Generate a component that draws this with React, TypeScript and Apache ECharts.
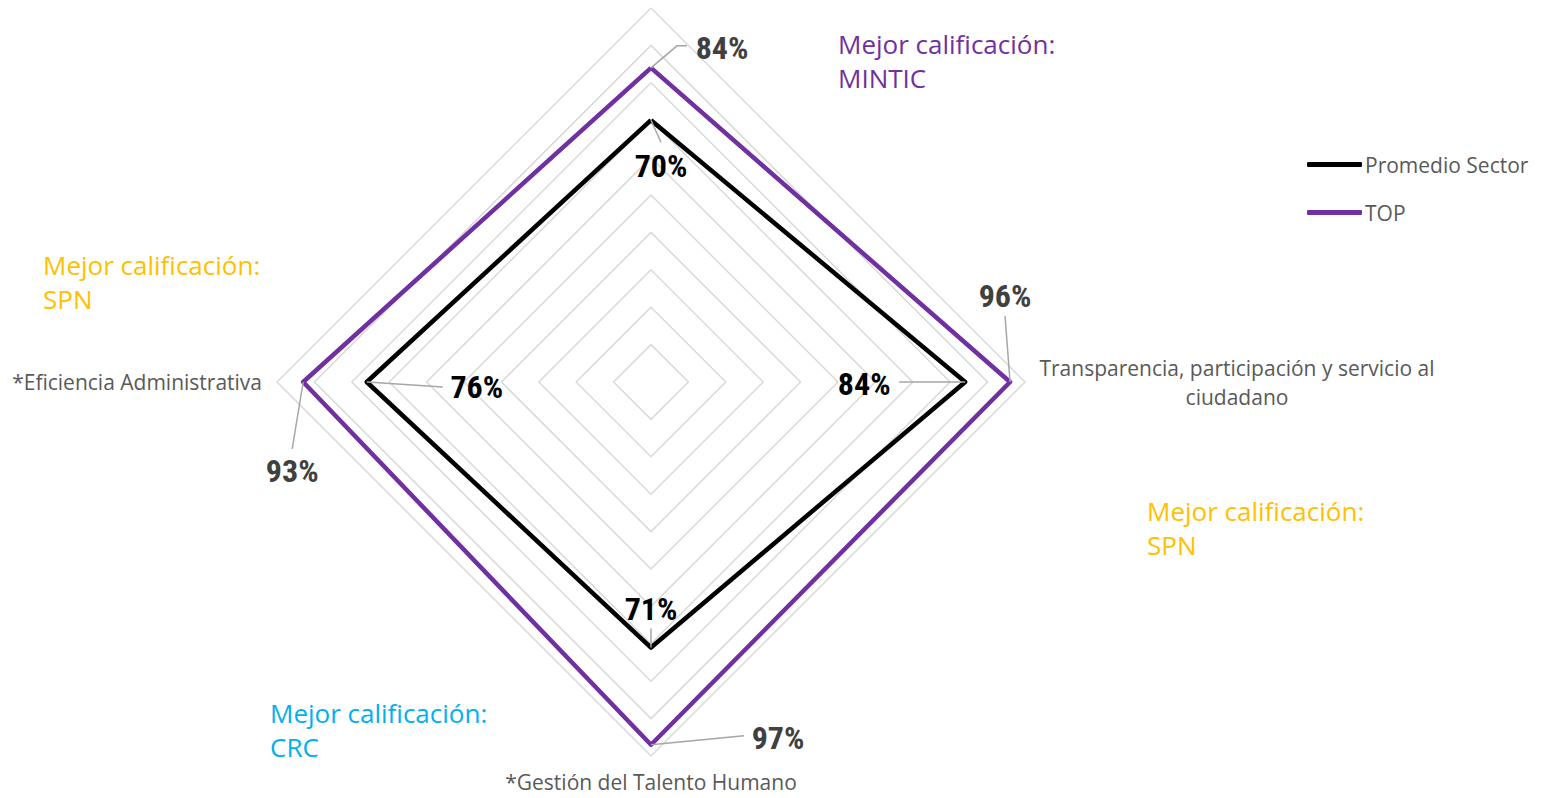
import React, { useEffect, useRef } from 'react';
import * as echarts from 'echarts';

// ---- data ----
const indicatorNames = [
  '',
  '*Eficiencia Administrativa',
  '*Gestión del Talento Humano',
  'Transparencia, participación y servicio al\nciudadano',
];
const seriesNames = ['Promedio Sector', 'TOP'];
const promedioValues = [0.7, 0.76, 0.71, 0.84];
const topValues = [0.84, 0.93, 0.97, 0.96];
const annotationTitle = 'Mejor calificación:';
const annotationEntities = ['MINTIC', 'SPN', 'SPN', 'CRC'];

// ---- layout / style ----
const CX = 651;
const CY = 382;
const R = 374;
const PURPLE = '#7030A0';
const GOLD = '#FFC000';
const BLUE = '#00B0F0';
const GRAY_TEXT = '#595959';
const LABEL_FONT = '"Liberation Sans Narrow", "Roboto Condensed", "Liberation Sans", Arial, sans-serif';
const BODY_FONT = '"Open Sans", "Noto Sans", sans-serif';

const annotationStyle = [
  { x: 838, y: 27, color: PURPLE },
  { x: 43, y: 248, color: GOLD },
  { x: 1147, y: 494, color: GOLD },
  { x: 270, y: 696, color: BLUE },
];

// label placement relative to the data point: text offset and leader elbow offsets
const topLabelPlacement = [
  { t: [71, -20], l: [[26, -22], [36, -22]] },
  { t: [-11, 89], l: [[-11, 67]] },
  { t: [127, -7], l: [[93, -9]] },
  { t: [-5, -86], l: [[-5, -66]] },
];
const promLabelPlacement = [
  { t: [10, 46], l: [[10, 22]] },
  { t: [110, 5], l: [[76, 5]] },
  { t: [0, -39], l: [[0, -19]] },
  { t: [-101, 2], l: [[-66, 0]] },
];

function point(i: number, v: number): [number, number] {
  const a = ((90 + 90 * i) * Math.PI) / 180;
  return [CX + R * v * Math.cos(a), CY - R * v * Math.sin(a)];
}

function labelElements(values: number[], placement: any[], color: string) {
  const els: any[] = [];
  values.forEach((v, i) => {
    const [px, py] = point(i, v);
    const p = placement[i];
    const pts: number[][] = [[px, py]];
    p.l.forEach((o: number[]) => pts.push([px + o[0], py + o[1]]));
    els.push({
      type: 'polyline',
      silent: true,
      shape: { points: pts },
      style: { stroke: '#a6a6a6', lineWidth: 1.5, fill: null },
      z: 10,
    });
    els.push({
      type: 'text',
      x: px + p.t[0],
      y: py + p.t[1],
      z: 11,
      style: {
        text: Math.round(v * 100) + '%',
        fill: color,
        fontFamily: LABEL_FONT,
        fontWeight: 'bold',
        fontSize: 32,
        textAlign: 'center',
        textVerticalAlign: 'middle',
      },
    });
  });
  return els;
}

function nameElements() {
  const els: any[] = [];
  const nameStyle = { fill: GRAY_TEXT, fontFamily: BODY_FONT, fontSize: 21, lineHeight: 29 };
  els.push({
    type: 'text', x: CX - R - 15, y: CY,
    style: { ...nameStyle, text: indicatorNames[1], textAlign: 'right', textVerticalAlign: 'middle' },
  });
  els.push({
    type: 'text', x: CX, y: CY + R + 26,
    style: { ...nameStyle, lineHeight: 20, text: indicatorNames[2], textAlign: 'center', textVerticalAlign: 'middle' },
  });
  els.push({
    type: 'text', x: CX + R + 212, y: CY,
    style: { ...nameStyle, text: indicatorNames[3], textAlign: 'center', textVerticalAlign: 'middle' },
  });
  return els;
}

function annotationElements() {
  return annotationEntities.map((e, i) => ({
    type: 'text',
    x: annotationStyle[i].x,
    y: annotationStyle[i].y,
    style: {
      text: annotationTitle + '\n' + e,
      fill: annotationStyle[i].color,
      fontFamily: BODY_FONT,
      fontSize: 26,
      lineHeight: 34,
      textAlign: 'left',
      textVerticalAlign: 'top',
    },
  }));
}

export default function App() {
  const ref = useRef<HTMLDivElement>(null);
  useEffect(() => {
    if (!ref.current) return;
    const chart = echarts.init(ref.current, null, { renderer: 'svg' });
    chart.setOption({
      animation: false,
      backgroundColor: '#ffffff',
      legend: {
        data: seriesNames,
        orient: 'vertical',
        left: 1302,
        top: 149,
        itemWidth: 55,
        itemHeight: 5,
        itemGap: 27,
        icon: 'roundRect',
        textStyle: { color: GRAY_TEXT, fontSize: 21, fontFamily: BODY_FONT, lineHeight: 20, padding: [0, 0, 0, -2] },
      },
      radar: {
        center: [CX, CY],
        radius: R,
        startAngle: 90,
        splitNumber: 10,
        shape: 'polygon',
        indicator: indicatorNames.map((n) => ({ name: n, min: 0, max: 1 })),
        axisName: { show: false },
        axisLine: { show: false },
        axisTick: { show: false },
        axisLabel: { show: false },
        splitArea: { show: false },
        splitLine: { lineStyle: { color: '#d9d9d9', width: 1.5 } },
      },
      series: [
        {
          type: 'radar',
          symbol: 'none',
          data: [
            {
              name: seriesNames[0],
              value: promedioValues,
              lineStyle: { color: '#000000', width: 4.5 },
              itemStyle: { color: '#000000' },
            },
            {
              name: seriesNames[1],
              value: topValues,
              lineStyle: { color: PURPLE, width: 4.5 },
              itemStyle: { color: PURPLE },
            },
          ],
        },
      ],
      graphic: [
        ...labelElements(topValues, topLabelPlacement, '#404040'),
        ...labelElements(promedioValues, promLabelPlacement, '#000000'),
        ...nameElements(),
        ...annotationElements(),
      ],
    });
    return () => chart.dispose();
  }, []);
  return (
    <div
      ref={ref}
      style={{ position: 'fixed', left: 0, top: 0, width: 1545, height: 798 }}
    />
  );
}
